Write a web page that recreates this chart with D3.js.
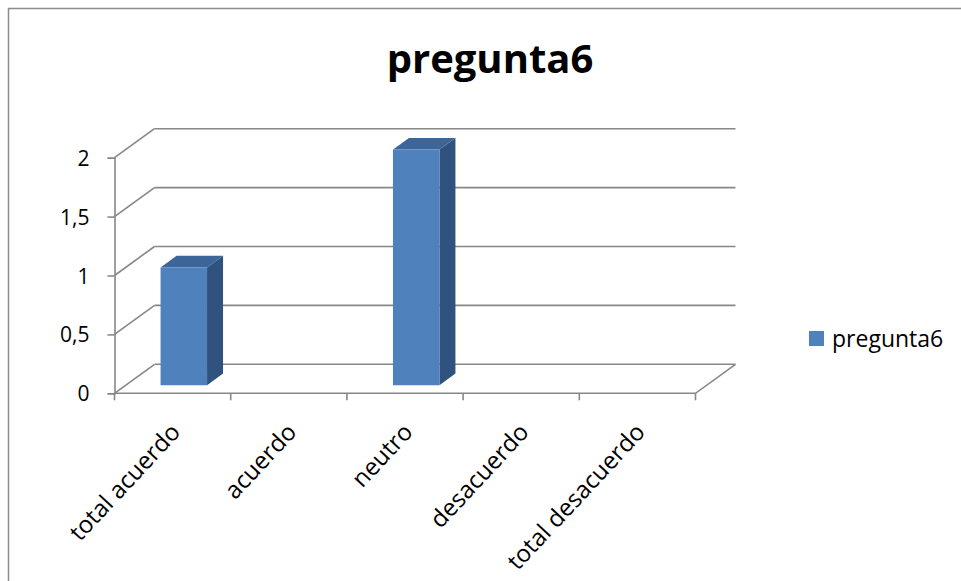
<!DOCTYPE html>
<html>
<head>
<meta charset="utf-8">
<script src="https://cdn.jsdelivr.net/npm/d3@7/dist/d3.min.js"></script>
<style>
  html, body { margin: 0; padding: 0; background: #fff; }
  svg { display: block; }
  text { font-family: "Open Sans", "DejaVu Sans", sans-serif; fill: #000; }
</style>
</head>
<body>
<svg id="chart" width="961" height="581"></svg>
<script>
// Survey answers for question 6
const categories = ["total acuerdo", "acuerdo", "neutro", "desacuerdo", "total desacuerdo"];
const values = [1, 0, 2, 0, 0];
const seriesName = "pregunta6";
const yTicks = [0, 0.5, 1, 1.5, 2];
const yTickLabels = ["0", "0,5", "1", "1,5", "2"];

const svg = d3.select("#chart");

// Plot geometry: a front plane plus an oblique depth offset for the 3D look
const plot = { left: 114.5, right: 695.5, top: 157.7, bottom: 393.3 };
const depth = { dx: 40, dy: -29 };
const barFront = 0.28, barBack = 0.68;   // bar depth range, as fractions of the full depth

const x = d3.scaleBand().domain(categories).range([plot.left, plot.right]).paddingInner(0).paddingOuter(0);
const y = d3.scaleLinear().domain([0, 2]).range([plot.bottom, plot.top]);

const proj = (px, v, f) => [px + f * depth.dx, y(v) + f * depth.dy];

const gridColor = "#878787";

// Chart-area frame
svg.append("rect")
  .attr("x", 8.5).attr("y", 8.5).attr("width", 1000).attr("height", 1000)
  .attr("fill", "none").attr("stroke", "#8c8c8c").attr("stroke-width", 1.5);

// Title
svg.append("text")
  .attr("x", 490).attr("y", 73.3)
  .attr("text-anchor", "middle")
  .style("font-weight", "bold").style("font-size", "40px")
  .text(seriesName);

const grid = svg.append("g").attr("stroke", gridColor).attr("stroke-width", 1.6).attr("fill", "none");

// Back-wall gridlines and the side-wall diagonals from the value axis
yTicks.forEach(v => {
  const a = proj(plot.left, v, 1), b = proj(plot.right, v, 1), c = proj(plot.left, v, 0);
  grid.append("line").attr("x1", a[0]).attr("y1", a[1]).attr("x2", b[0]).attr("y2", b[1]);
  grid.append("line").attr("x1", c[0]).attr("y1", c[1]).attr("x2", a[0]).attr("y2", a[1]);
});

// Floor: front edge and right edge
{
  const f0 = proj(plot.left, 0, 0), f1 = proj(plot.right, 0, 0), b1 = proj(plot.right, 0, 1);
  grid.append("path").attr("d", d3.line()([f0, f1, b1]));
}

// Value axis with outward ticks
const yAxisG = svg.append("g").attr("transform", `translate(${plot.left},0)`);
yAxisG.call(d3.axisLeft(y).tickValues(yTicks).tickSize(7).tickFormat((d, i) => yTickLabels[i]));
yAxisG.select(".domain").attr("stroke", gridColor).attr("stroke-width", 1.6);
yAxisG.selectAll(".tick line").attr("stroke", gridColor).attr("stroke-width", 1.6);
yAxisG.selectAll(".tick text")
  .attr("x", -25).attr("dy", "0.36em")
  .style("font-size", "21px").style("font-family", "'Open Sans', sans-serif").attr("fill", "#000");

// Category axis: ticks at band boundaries, labels rotated
const xAxisG = svg.append("g").attr("transform", `translate(0,${plot.bottom})`);
const boundaries = categories.map(c => x(c)).concat([plot.right]);
xAxisG.selectAll("line.tk").data(boundaries).join("line")
  .attr("class", "tk")
  .attr("x1", d => d).attr("x2", d => d).attr("y1", 0).attr("y2", 7)
  .attr("stroke", gridColor).attr("stroke-width", 1.6);

xAxisG.selectAll("text.lbl").data(categories).join("text")
  .attr("class", "lbl")
  .attr("text-anchor", "end")
  .attr("transform", d => `translate(${x(d) + x.bandwidth() / 2 + 9},${40}) rotate(-47)`)
  .style("font-size", "24px")
  .text(d => d);

// 3D bars: front, side and top faces
const barW = x.bandwidth() * 0.4;
const bars = svg.append("g");
categories.forEach((c, i) => {
  const v = values[i];
  if (!v) return;
  const cx = x(c) + x.bandwidth() / 2;
  const x0 = cx - barW / 2, x1 = cx + barW / 2;
  const fbl = proj(x0, 0, barFront), fbr = proj(x1, 0, barFront);
  const ftl = proj(x0, v, barFront), ftr = proj(x1, v, barFront);
  const bbr = proj(x1, 0, barBack), btl = proj(x0, v, barBack), btr = proj(x1, v, barBack);
  const line = d3.line();
  bars.append("path").attr("d", line([fbr, ftr, btr, bbr]) + "Z").attr("fill", "#30527e");
  bars.append("path").attr("d", line([ftl, ftr, btr, btl]) + "Z").attr("fill", "#3c6599");
  bars.append("path").attr("d", line([fbl, fbr, ftr, ftl]) + "Z").attr("fill", "#4f81bd");
});

// Legend
const lg = svg.append("g").attr("transform", "translate(809,331)");
lg.append("rect").attr("width", 15).attr("height", 15).attr("fill", "#4f81bd");
lg.append("text").attr("x", 23).attr("y", 7.5).attr("dy", "0.36em")
  .style("font-size", "23px").text(seriesName);
</script>
</body>
</html>
